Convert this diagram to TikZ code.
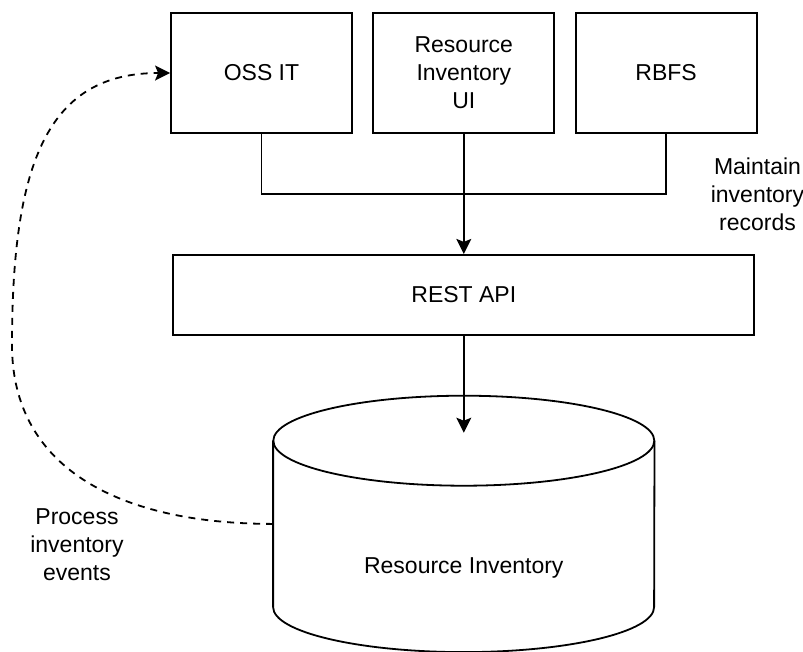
\documentclass[tikz,border=0pt]{standalone}
\usepackage{fontspec}
\setmainfont{Liberation Sans}
\usetikzlibrary{arrows.meta,positioning,calc}

\begin{document}
\begin{tikzpicture}[
                x=1pt, y=-1pt,
                font=\fontsize{23}{28}\selectfont,
                >={Stealth[length=15pt,width=15pt,inset=3pt]},
                box/.style={draw, line width=1.8pt, minimum width=181pt, minimum height=120pt, align=center, inner sep=0pt},
                widebox/.style={box, minimum width=581pt, minimum height=80pt},
                store/.style={minimum width=381pt, minimum height=256pt, inner sep=0pt},
                lbl/.style={align=center, inner sep=0pt},
                line/.style={line width=1.8pt},
                arr/.style={->, line width=1.8pt},
                dasharr/.style={->, line width=1.8pt, dash pattern=on 7pt off 6pt},
            ]

            \useasboundingbox (0,0) rectangle (803,651);

            % ----- Top row (clients) -----
            \node[box] (oss) at (261.5,73) {OSS IT};
            \node[box, right=19.5pt of oss] (riui) {Resource\\Inventory\\UI};
            \node[box, right=19.5pt of riui] (rbfs) {RBFS};

            % ----- API and store -----
            \node[widebox, below=120pt of riui] (rest) {REST API};
            \node[store, below=60pt of rest] (db) {};

            % cylinder outline around db
            \draw[line] ($(db.north)+(0,45)$) ellipse[x radius=190.5pt, y radius=45pt];
            \draw[line] ($(db.north west)+(0,45)$) -- ($(db.south west)+(0,-45)$)
                arc[start angle=180, end angle=360, x radius=190.5pt, y radius=45pt]
                -- ($(db.north east)+(0,45)$);
            \node[lbl] (dbtext) at ($(db.center)+(0,44)$) {Resource Inventory};

            % wiring: clients -> REST API
            \draw[line] (oss.south) -- ++(0,60) -| (rbfs.south);
            \draw[arr] (riui.south) -- (rest.north);

            % REST API -> store
            \coordinate (dbin) at ($(db.north)+(0,37)$);
            \draw[arr] (rest.south) -- (dbin);

            % events back to OSS IT
            \coordinate (bend) at (12,345);
            \draw[dasharr] (db.west) .. controls +(-151,0) and +(0,125) .. (bend)
                .. controls +(0,-185) and +(-121,0) .. (oss.west);

            % edge labels
            \node[lbl, below=24pt of rbfs.south east] (maintlbl) {Maintain\\inventory\\records};
            \node[lbl] (eventlbl) at (77,545) {Process\\inventory\\events};

            \end{tikzpicture}
\end{document}
